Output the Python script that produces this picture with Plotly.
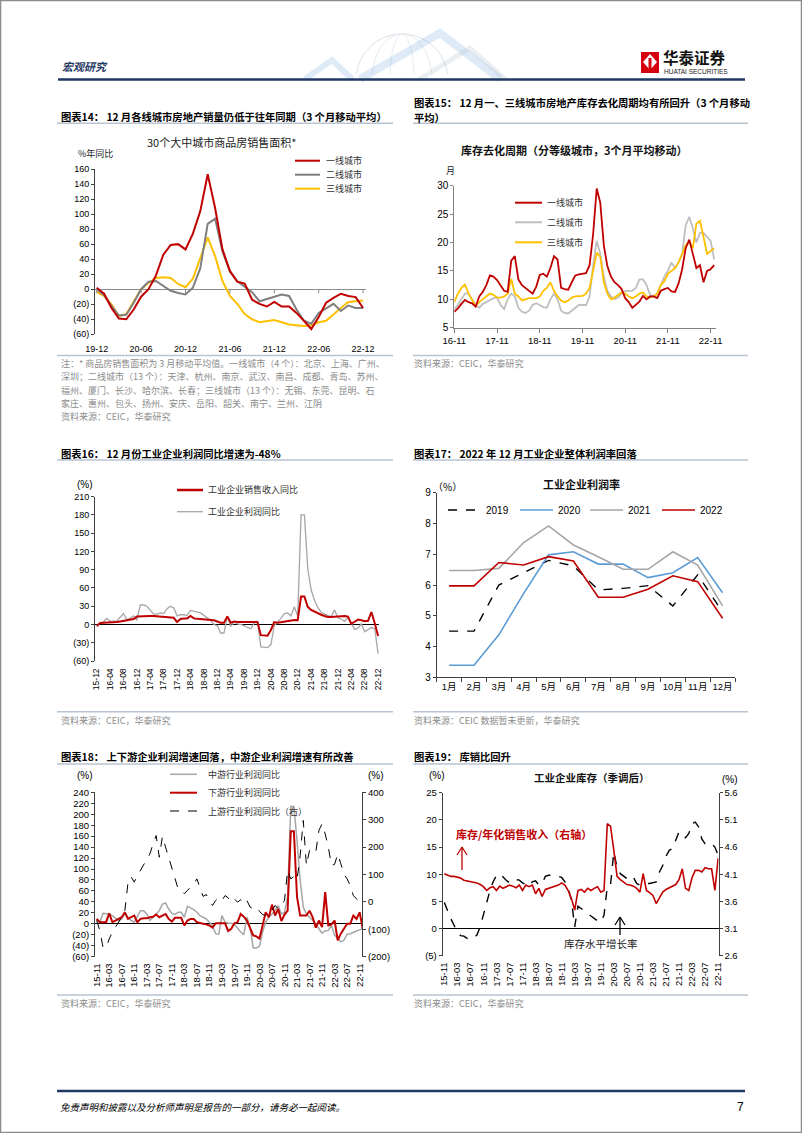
import numpy as np
import pandas as pd
import plotly.graph_objects as go

W, H = 802, 1133
CJK = "Noto Sans CJK SC"
NUM = "Liberation Sans, Arial, Noto Sans CJK SC"
RED = "#C00000"

# ---------------- data ----------------
# Chart 14: 30 cities sales area yoy (3mma), 19-12 .. 22-12
months14 = pd.date_range("2019-12-01", "2022-12-01", freq="MS").strftime("%y-%m").tolist()
tier1_14 = [2, -6, -25, -39, -40, -27, -10, 0, 18, 46, 59, 60, 53, 74, 104, 153, 108, 53, 24, 10,
            7.5, -14, -19.5, -23, -17, -23, -23, -31.5, -42, -53, -37, -18, -11.5, -6, -9, -10.5, -25]
tier2_14 = [0, -8, -22, -35, -34, -18, 0, 10, 11, 4, -2, -5, -7, 2, 28, 87, 94, 50, 24, 10.6,
            2.7, -4, -16, -13, -10.6, -7, -9, -27, -42, -46, -31.5, -26, -19.5, -29, -21.7, -25, -25]
tier3_14 = [-4, -9, -20, -36, -33, -16, 0, 8.5, 15, 16, 15, 7, 2.7, 14, 42, 69, 44, 10.6, -9, -19.5,
            -33, -40, -44, -42, -41, -44, -47, -48, -49, -48, -44, -42, -33, -25, -17, -16, -15]
ticks14 = ["19-12", "20-06", "20-12", "21-06", "21-12", "22-06", "22-12"]
yt14 = [-60, -40, -20, 0, 20, 40, 60, 80, 100, 120, 140, 160]
yl14 = ["(60)", "(40)", "(20)", "0", "20", "40", "60", "80", "100", "120", "140", "160"]

# Chart 15: inventory clearance cycle (months), 16-11 .. 22-12
months15 = pd.date_range("2016-11-01", "2022-12-01", freq="MS").strftime("%y-%m").tolist()
tier1_15 = [7.8, 8.4, 9.2, 9.9, 9.5, 9.3, 8.7, 10.5, 11.3, 12.5, 14.2, 14.0, 13.4, 12.5, 11.5, 11.3,
            16.8, 17.6, 13.5, 12.5, 12.0, 11.6, 11.0, 12.2, 14.3, 14.5, 14.0, 15.5, 17.6, 17.0, 12.0,
            11.8, 11.7, 13.0, 14.2, 14.4, 14.5, 14.6, 16.0, 21.5, 29.5, 27.0, 19.5, 15.8, 14.0, 13.0,
            12.5, 11.8, 10.2, 9.5, 8.5, 9.0, 9.6, 10.6, 10.0, 10.5, 10.5, 10.2, 11.5, 11.8, 12.0, 11.4,
            11.3, 12.8, 15.3, 19.0, 20.5, 18.0, 15.5, 16.0, 13.0, 15.0, 15.3, 16.0]
tier2_15 = [8.3, 9.0, 10.0, 11.0, 11.0, 10.0, 9.0, 8.5, 9.2, 9.5, 9.8, 10.2, 10.3, 9.0, 8.3, 10.0,
            11.0, 10.5, 8.5, 7.8, 7.6, 8.0, 9.0, 9.3, 9.0, 8.6, 8.5, 10.0, 11.0, 10.0, 8.0, 7.6, 7.5,
            8.0, 8.5, 9.0, 9.0, 9.0, 10.5, 16.0, 20.3, 18.0, 14.0, 11.5, 10.5, 10.0, 10.3, 11.0, 11.5,
            11.5, 11.5, 12.0, 13.5, 13.5, 12.5, 10.8, 10.5, 11.0, 12.5, 14.0, 15.0, 16.5, 15.5, 16.5,
            18.0, 23.0, 24.5, 22.5, 20.0, 21.7, 21.7, 21.0, 20.3, 17.0]
tier3_15 = [9.5, 11.0, 12.0, 12.6, 11.0, 10.0, 8.8, 9.5, 10.0, 10.6, 11.0, 10.8, 10.3, 10.3, 10.5,
            11.0, 13.6, 11.0, 10.5, 9.8, 10.0, 10.2, 10.2, 10.2, 10.5, 11.5, 12.0, 13.0, 11.5, 10.5,
            9.8, 9.5, 9.8, 10.3, 10.5, 10.5, 10.6, 11.0, 12.0, 15.0, 18.2, 17.5, 13.0, 11.0, 10.0,
            10.3, 10.8, 11.2, 11.0, 10.5, 10.2, 10.5, 11.0, 11.2, 10.5, 10.3, 10.5, 11.0, 12.5, 13.2,
            14.5, 15.0, 15.5, 16.5, 18.0, 19.5, 20.2, 19.0, 23.3, 23.8, 21.0, 18.0, 18.5, 19.0]
ticks15 = ["16-11", "17-11", "18-11", "19-11", "20-11", "21-11", "22-11"]
yt15 = [5, 10, 15, 20, 25, 30]

# Chart 16: industrial revenue / profit yoy, 15-12 .. 22-12
months16 = pd.date_range("2015-12-01", "2022-12-01", freq="MS").strftime("%y-%m").tolist()
revenue16 = [-2, 2, 3, 3, 4, 4, 4, 5, 6, 6, 7, 9, 13, 13.5, 14, 14, 14, 14, 13.5, 13,
             12.5, 12, 12, 11, 4, 9, 10, 10, 14, 10, 9.5, 9, 9, 8, 7, 7, 5, 3, 3, 13,
             3, 5, 4, 4, 4, 3, 3, 3, 4, -17.5, -18, -18.5, -9, 4, 3, 4, 5.5, 6.5, 7, 7.5,
             7, 46, 46, 29, 24, 21, 19, 16, 14, 12.5, 12.5, 13, 14, 14, 14, 13, 1, 4.5, 8, 7,
             5.5, 6, 20.5, 2, -19]
profit16 = [-4, 3, 4, 10, 5, 5, 6, 12, 18, 8, 10, 14, 7, 32, 32, 30, 24, 17, 17, 19,
            18, 26, 30, 27, 14, 16, 16, 15, 23, 22, 21, 19, 15, 11, 7, 0, -2, -14, -14, 14,
            -3, 4, 1, 0, -2, -4, -7, 2, 5, -37, -38, -38, -33, -2, 4, 10, 18, 19, 14, 29,
            14, 180, 180, 92, 57, 40, 28, 20, 17, 15, 13, 24, 11, 9, 5, 12, 3, -8, -6, 1,
            -12, -9, -5, -7, -48]
ticks16 = ["15-12", "16-04", "16-08", "16-12", "17-04", "17-08", "17-12", "18-04", "18-08", "18-12",
           "19-04", "19-08", "19-12", "20-04", "20-08", "20-12", "21-04", "21-08", "21-12", "22-04",
           "22-08", "22-12"]
yt16 = [-60, -30, 0, 30, 60, 90, 120, 150, 180, 210]
yl16 = ["(60)", "(30)", "0", "30", "60", "90", "120", "150", "180", "210"]

# Chart 17: profit margin by month
months17 = ["1月", "2月", "3月", "4月", "5月", "6月", "7月", "8月", "9月", "10月", "11月", "12月"]
m2019 = [4.5, 4.5, 6.0, 6.4, 6.8, 6.62, 5.84, 5.89, 5.98, 5.32, 6.33, 5.12]
m2020 = [3.39, 3.39, 4.38, 5.73, 6.98, 7.08, 6.68, 6.68, 6.24, 6.4, 6.89, 5.75]
m2021 = [6.47, 6.47, 6.54, 7.38, 7.92, 7.3, 6.92, 6.51, 6.51, 7.08, 6.65, 5.32]
m2022 = [5.97, 5.97, 6.73, 6.65, 6.92, 6.78, 5.6, 5.6, 5.86, 6.3, 6.11, 4.92]
yt17 = [3, 4, 5, 6, 7, 8, 9]

# Chart 18: up / mid / downstream profit yoy, 15-11 .. 22-12
months18 = pd.date_range("2015-11-01", "2022-12-01", freq="MS").strftime("%y-%m").tolist()
mid18 = [6, 3, 19, 19, 18, 15, 10, 6, 9, 19, 12, 6, 3, 15, 24, 24, 18, 6, 12, 18,
         24, 36, 38, 27, 19, 17, 21, 21, 12, 32, 29, 26, 21, 15, 12, 9, 3, -3, -18, -19,
         15, 3, 1, 1, -1, -9, -15, -20, 12, -6, -44, -44, -41, -15, 3, 12, 18, 24, 33, 18,
         21, 50, 214, 214, 152, 79, 30, 18, 12, 6, 0, -9, -17, -13, -12, -3, -21, -26, -33, -30,
         -19, -18, -15, -13, -11, -9]
down18 = [9, 3, 3, 3, 19, 3, 6, 9, 12, 21, 9, 12, 15, 3, 9, 10, 10, 12, 13, 17,
          12, 15, 18, 9, 4, 11, 11, 11, -3, 6, 9, 9, 3, 1, 0, -1, -3, -7, 1, 1,
          1, 1, -13, -9, 1, 3, 18, 13, 6, -9, -21, -23, -27, -3, 21, 12, 35, 15, 27, 5,
          17, 24, 169, 169, 49, 15, 15, 15, 24, 12, -7, 6, -6, 58, -3, -1, 6, -30, -18, -9,
          0, 0, 15, 9, 21, -9]
up18 = [-68, -104, -165, -168, -135, -110, -92, -74, -56, -31, 70, 92, 72, 96, 115, 133, 151, 175, 212, 242,
        163, 239, 200, 163, 121, 84, 48, 44, 29.5, 42, 54, 66, 84, 54, 20, 27, 8, -13, 5, 15,
        5, 23, 15, -1, 11, -1, 8, -7, 5, -19, -25, -19, -34, -46, -50, -37, -31, -13, -25, -13,
        5, 115, 84, 93, 80, 169, 297, 133, 188, 194, 182, 261, 285, 248, 200, 133, 137, 175, 139, 102,
        84, 60, 23, 11, 3, -5]
ticks18 = ["15-11", "16-03", "16-07", "16-11", "17-03", "17-07", "17-11", "18-03", "18-07", "18-11",
           "19-03", "19-07", "19-11", "20-03", "20-07", "20-11", "21-03", "21-07", "21-11", "22-03",
           "22-07", "22-11"]
yt18 = [-60, -40, -20, 0, 20, 40, 60, 80, 100, 120, 140, 160, 180, 200, 220, 240]
yl18 = ["(60)", "(40)", "(20)", "0", "20", "40", "60", "80", "100", "120", "140", "160", "180",
        "200", "220", "240"]
yt18r = [-200, -100, 0, 100, 200, 300, 400]
yl18r = ["(200)", "(100)", "0", "100", "200", "300", "400"]

# Chart 19: inventory growth and inventory/sales ratio, 15-11 .. 22-11
months19 = pd.date_range("2015-11-01", "2022-11-01", freq="MS").strftime("%y-%m").tolist()
inv_growth19 = [4.8, 3.1, 1.8, 0.6, -0.6, -1.3, -1.4, -1.8, -2.0, -1.7, -1.2, 0.3, 2.5, 5.2, 7.0,
                8.6, 9.8, 10.1, 9.4, 8.9, 8.4, 8.8, 9.0, 8.9, 8.4, 8.1, 7.8, 8.6, 8.8, 8.0, 8.3,
                9.6, 9.8, 9.8, 9.8, 9.6, 9.4, 8.6, 7.4, 5.2, 0.3, 4.1, 3.7, 3.2, 2.8, 2.3, 1.8,
                1.4, 1.2, 2.5, 7.7, 8.1, 14.1, 11.2, 10.1, 9.6, 9.2, 8.9, 9.4, 8.3, 8.0, 8.1, 8.3,
                8.3, 8.4, 8.6, 10.4, 11.6, 13.3, 14.4, 14.7, 16.2, 17.8, 17.2, 16.7, 17.5, 19.3,
                19.6, 18.7, 16.5, 15.6, 15.3, 15.6, 15.0, 13.5]
inv_ratio19 = [4.11, 4.08, 4.06, 4.06, 4.05, 4.03, 3.99, 3.98, 3.97, 3.96, 3.94, 3.91, 3.87, 3.80,
               3.85, 3.87, 3.80, 3.88, 3.84, 3.87, 3.90, 3.88, 3.85, 3.90, 3.80, 3.90, 3.87, 3.90,
               3.74, 3.84, 3.69, 3.82, 3.84, 3.87, 3.88, 3.90, 3.94, 3.90, 3.80, 3.65, 3.44, 3.80,
               3.82, 3.77, 3.84, 3.80, 3.84, 3.87, 3.77, 3.80, 5.03, 4.98, 4.54, 4.06, 4.00, 3.96,
               3.91, 3.90, 3.88, 3.84, 3.77, 4.11, 3.80, 3.76, 3.71, 3.56, 3.68, 3.77, 3.82, 3.85,
               3.88, 3.91, 4.00, 4.20, 3.84, 3.80, 4.04, 4.17, 4.17, 4.14, 4.22, 4.20, 4.20, 3.80, 4.39]
ticks19 = ticks18
yt19 = [-5, 0, 5, 10, 15, 20, 25]
yl19 = ["(5)", "0", "5", "10", "15", "20", "25"]
yt19r = [2.6, 3.1, 3.6, 4.1, 4.6, 5.1, 5.6]
yl19r = ["2.6", "3.1", "3.6", "4.1", "4.6", "5.1", "5.6"]


# ---------------- helpers ----------------
def X(p):
    return p / W


def Y(p):
    return 1 - p / H


annotations, shapes = [], []


def text(x, y, s, size=9, color="#000", anchor="left", family=CJK, bold=False, italic=False):
    if bold:
        s = "<b>" + s + "</b>"
    if italic:
        s = "<i>" + s + "</i>"
    annotations.append(dict(x=X(x), y=Y(y), xref="paper", yref="paper", text=s, showarrow=False,
                            xanchor=anchor, yanchor="middle", borderpad=0,
                            font=dict(size=size, color=color, family=family)))


def line(x0, y0, x1, y1, color="#000", width=1, dash="solid"):
    shapes.append(dict(type="line", xref="paper", yref="paper", x0=X(x0), y0=Y(y0), x1=X(x1), y1=Y(y1),
                       line=dict(color=color, width=width, dash=dash)))


def xr(d0, d1, p0, step):
    return [(d0 - p0) / step, (d1 - p0) / step]


fig = go.Figure()


def add(x, y, xa, ya, color, width, dash="solid"):
    fig.add_trace(go.Scatter(x=x, y=y, xaxis=xa, yaxis=ya, mode="lines",
                             line=dict(color=color, width=width, dash=dash),
                             showlegend=False, hoverinfo="skip"))


def ax(**kw):
    d = dict(showgrid=False, zeroline=False, fixedrange=True, automargin=False,
             tickfont=dict(family=NUM, size=9, color="#000"))
    d.update(kw)
    return d


AX = "#404040"

# ---------------- traces ----------------
add(months14, tier3_14, "x", "y", "#FFC000", 2)
add(months14, tier2_14, "x", "y", "#7F7F7F", 2)
add(months14, tier1_14, "x", "y", RED, 2)

add(months15, tier2_15, "x2", "y2", "#BFBFBF", 1.8)
add(months15, tier3_15, "x2", "y2", "#FFC000", 1.8)
add(months15, tier1_15, "x2", "y2", RED, 1.8)

add(months16, profit16, "x3", "y3", "#A6A6A6", 1.3)
add(months16, revenue16, "x3", "y3", RED, 2)

add(months17, m2019, "x4", "y4", "#000000", 1.4, "dash")
add(months17, m2020, "x4", "y4", "#5B9BD5", 1.6)
add(months17, m2021, "x4", "y4", "#A6A6A6", 1.6)
add(months17, m2022, "x4", "y4", RED, 1.6)

add(months18, mid18, "x5", "y5", "#A6A6A6", 1.5)
add(months18, down18, "x5", "y5", RED, 2)
add(months18, up18, "x5", "y7", "#000000", 1, "dash")

add(months19, inv_growth19, "x6", "y6", "#000000", 1.4, "dash")
add(months19, inv_ratio19, "x6", "y8", RED, 1.6)

# ---------------- axes ----------------
layout = dict(width=W, height=H, margin=dict(l=0, r=0, t=0, b=0), paper_bgcolor="white",
              plot_bgcolor="rgba(0,0,0,0)", showlegend=False)

tick_clear = dict(ticks="outside", tickcolor="rgba(0,0,0,0)")

layout["xaxis"] = ax(type="category", domain=[X(95), X(366)], range=xr(95, 366, 96.7, 7.4), anchor="y",
                     tickmode="array", tickvals=ticks14, ticktext=ticks14, ticklen=6, tickangle=0, **tick_clear)
layout["yaxis"] = ax(domain=[Y(334.3), Y(169)], range=[-60, 160], anchor="x", tickmode="array",
                     tickvals=yt14, ticktext=yl14, showline=True, linecolor=AX, ticks="outside",
                     ticklen=3, tickcolor=AX, zeroline=True, zerolinecolor="#8C8C8C", zerolinewidth=1)

layout["xaxis2"] = ax(type="category", domain=[X(454.3), X(716)], range=xr(454.3, 716, 454.3, 3.56),
                      anchor="y2", tickmode="array", tickvals=ticks15, ticktext=ticks15, tickangle=0,
                      showline=True, linecolor="#808080", ticks="outside", ticklen=4, tickcolor="#808080",
                      tickfont=dict(family=NUM, size=9.5, color="#000"))
layout["yaxis2"] = ax(domain=[Y(327.7), Y(185.7)], range=[5, 30], anchor="x2", tickmode="array",
                      tickvals=yt15, showline=True, linecolor="#808080", ticks="outside", ticklen=3,
                      tickcolor="#808080", tickfont=dict(family=NUM, size=10, color="#000"))

layout["xaxis3"] = ax(type="category", domain=[X(95), X(379)], range=xr(95, 379, 96.7, 3.35), anchor="y3",
                      tickmode="array", tickvals=ticks16, ticktext=ticks16, tickangle=-90, ticklen=3,
                      tickfont=dict(family=NUM, size=8.5, color="#000"), **tick_clear)
layout["yaxis3"] = ax(domain=[Y(661), Y(496.7)], range=[-60, 210], anchor="x3", tickmode="array",
                      tickvals=yt16, ticktext=yl16, showline=True, linecolor=AX, ticks="outside", ticklen=3,
                      tickcolor=AX, zeroline=True, zerolinecolor="#000", zerolinewidth=1)

layout["xaxis4"] = ax(type="category", domain=[X(436.7), X(735)], range=[-0.5, 11.5], anchor="y4",
                      showline=True, linecolor=AX, ticks="outside", ticklen=4, tickcolor=AX, tickangle=0,
                      tickson="boundaries", tickfont=dict(family=NUM, size=9.5, color="#000"))
layout["yaxis4"] = ax(domain=[Y(677.3), Y(492.7)], range=[3, 9], anchor="x4", tickmode="array",
                      tickvals=yt17, showline=True, linecolor=AX, ticks="outside", ticklen=3, tickcolor=AX,
                      tickfont=dict(family=NUM, size=10, color="#000"))

layout["xaxis5"] = ax(type="category", domain=[X(95), X(362)], range=xr(95, 362, 96.7, 3.13), anchor="y5",
                      tickmode="array", tickvals=ticks18, ticktext=ticks18, tickangle=-90, ticklen=2,
                      tickfont=dict(family=NUM, size=9.5, color="#000"), **tick_clear)
layout["yaxis5"] = ax(domain=[Y(956.7), Y(792.3)], range=[-60, 240], anchor="x5", tickmode="array",
                      tickvals=yt18, ticktext=yl18, showline=True, linecolor=AX, ticks="outside", ticklen=3,
                      tickcolor=AX, zeroline=True, zerolinecolor="#000", zerolinewidth=1,
                      tickfont=dict(family=NUM, size=9.5, color="#000"))
layout["yaxis7"] = ax(overlaying="y5", side="right", anchor="x5", range=[-200, 400], tickmode="array",
                      tickvals=yt18r, ticktext=yl18r, showline=True, linecolor=AX, ticks="outside",
                      ticklen=3, tickcolor=AX, tickfont=dict(family=NUM, size=9.5, color="#000"))

layout["xaxis6"] = ax(type="category", domain=[X(442.7), X(718.5)], range=xr(442.7, 718.5, 444.3, 3.26),
                      anchor="y6", tickmode="array", tickvals=ticks19, ticktext=ticks19, tickangle=-90,
                      ticklen=2, tickfont=dict(family=NUM, size=9.5, color="#000"), **tick_clear)
layout["yaxis6"] = ax(domain=[Y(955.7), Y(792.7)], range=[-5, 25], anchor="x6", tickmode="array",
                      tickvals=yt19, ticktext=yl19, showline=True, linecolor=AX, ticks="outside", ticklen=3,
                      tickcolor=AX, zeroline=True, zerolinecolor="#000", zerolinewidth=1,
                      tickfont=dict(family=NUM, size=9.5, color="#000"))
layout["yaxis8"] = ax(overlaying="y6", side="right", anchor="x6", range=[2.6, 5.6], tickmode="array",
                      tickvals=yt19r, ticktext=yl19r, showline=True, linecolor=AX, ticks="outside",
                      ticklen=3, tickcolor=AX, tickfont=dict(family=NUM, size=9.5, color="#000"))

# small tick marks on the zero line of chart 14
for t in ticks14:
    shapes.append(dict(type="line", xref="x", yref="y", x0=t, x1=t, ysizemode="pixel", yanchor=0,
                       y0=0, y1=-4, line=dict(color="#8C8C8C", width=1)))

# ---------------- page decoration ----------------
NAVY = "#1F3864"
SEP = "#B8C4D2"
shapes.append(dict(type="rect", xref="paper", yref="paper", x0=X(0.5), x1=X(801.5), y0=Y(1132.5), y1=Y(0.5),
                   line=dict(color="#8C8C8C", width=1.5)))
# globe-like watermark
for (cx, cy, rx, ry, col) in [(402, 80, 46, 46, "#DCE2E9"), (402, 80, 30, 46, "#E4E8EE"), (402, 80, 12, 46, "#E8ECF1")]:
    ang = np.linspace(0.04 * np.pi, 0.96 * np.pi, 40)
    path = "M " + " L ".join(f"{X(cx + rx * np.cos(a)):.5f},{Y(cy - ry * np.sin(a)):.5f}" for a in ang)
    shapes.append(dict(type="path", xref="paper", yref="paper", path=path, line=dict(color=col, width=1)))
for pts, col, wd in [([(305, 79), (332, 60), (352, 79)], "rgba(91,155,213,0.20)", 6),
                     ([(360, 79), (440, 33), (500, 79)], "rgba(91,155,213,0.20)", 8),
                     ([(420, 79), (470, 48), (505, 79)], "rgba(180,190,205,0.25)", 5)]:
    path = "M " + " L ".join(f"{X(a):.5f},{Y(b):.5f}" for a, b in pts)
    shapes.append(dict(type="path", xref="paper", yref="paper", path=path, line=dict(color=col, width=wd)))

line(58, 79.5, 745, 79.5, NAVY, 2.5)
line(57, 1091, 745, 1091, NAVY, 2.5)
text(61, 66, "宏观研究", size=11, color=NAVY, bold=True, italic=True)
shapes.append(dict(type="rect", xref="paper", yref="paper", x0=X(641), x1=X(659), y0=Y(73), y1=Y(52),
                   fillcolor="#D7000F", line=dict(width=0)))
shapes.append(dict(type="path", xref="paper", yref="paper",
                   path=f"M {X(650):.5f},{Y(54):.5f} L {X(657):.5f},{Y(62):.5f} L {X(650):.5f},{Y(70):.5f} L {X(643):.5f},{Y(62):.5f} Z",
                   fillcolor="white", line=dict(width=0)))
shapes.append(dict(type="rect", xref="paper", yref="paper", x0=X(648.5), x1=X(651.5), y0=Y(73), y1=Y(58),
                   fillcolor="#D7000F", line=dict(width=0)))
text(662, 56.5, "华泰证券", size=15.5, color="#111", bold=True)
text(663, 71.5, "HUATAI SECURITIES", size=6.5, color="#222", family=NUM)
text(59, 1107, "免责声明和披露以及分析师声明是报告的一部分，请务必一起阅读。", size=9.5, italic=True)
text(745, 1107, "7", size=12, anchor="right", family=NUM)

# ---------------- titles, rules, sources ----------------
TS = 10.3
text(60, 116, "图表14：\u00a012 月各线城市房地产销量仍低于往年同期（3 个月移动平均）", TS, bold=True)
text(413, 102, "图表15：\u00a012 月一、三线城市房地产库存去化周期均有所回升（3 个月移动", TS, bold=True)
text(413, 117, "平均）", TS, bold=True)
text(60, 453, "图表16：\u00a012 月份工业企业利润同比增速为-48%", TS, bold=True)
text(413, 453, "图表17：\u00a02022 年 12 月工业企业整体利润率回落", TS, bold=True)
text(60, 756, "图表18：\u00a0上下游企业利润增速回落，中游企业利润增速有所改善", TS, bold=True)
text(413, 756, "图表19：\u00a0库销比回升", TS, bold=True)
for (a, b, y) in [(57, 393, 123.3), (413, 748, 123.3), (57, 393, 460), (413, 748, 460), (57, 393, 764),
                  (413, 748, 764), (57, 393, 355.5), (413, 748, 355.5), (57, 393, 711.7), (413, 748, 711.7),
                  (57, 393, 995), (413, 748, 995)]:
    line(a, y, b, y, SEP, 1.5)

GREY = "#8C8C8C"
notes = ["注：* 商品房销售面积为 3 月移动平均值。一线城市（4 个）：北京、上海、广州、",
         "深圳；二线城市（13 个）：天津、杭州、南京、武汉、南昌、成都、青岛、苏州、",
         "福州、厦门、长沙、哈尔滨、长春；三线城市（13 个）：无锡、东莞、昆明、石",
         "家庄、惠州、包头、扬州、安庆、岳阳、韶关、南宁、兰州、江阴"]
for k, s in enumerate(notes):
    text(60, 363 + 13.5 * k, s, 9, GREY)
text(60, 417, "资料来源：CEIC，华泰研究", 9, GREY)
text(413, 363, "资料来源：CEIC，华泰研究", 9, GREY)
text(60, 720, "资料来源：CEIC，华泰研究", 9, GREY)
text(413, 720, "资料来源：CEIC 数据暂未更新，华泰研究", 9, GREY)
text(60, 1003.3, "资料来源：CEIC，华泰研究", 9, GREY)
text(413, 1003.3, "资料来源：CEIC，华泰研究", 9, GREY)

# ---------------- chart inner texts & legends ----------------
# chart 14
text(221, 142, "30个大中城市商品房销售面积*", 11, "#222", anchor="center")
text(77, 153.3, "%年同比", 9, "#222")
for y, c, s in [(160.7, RED, "一线城市"), (174.7, "#7F7F7F", "二线城市"), (188.7, "#FFC000", "三线城市")]:
    line(295, y, 320, y, c, 2)
    text(325, y, s, 9, "#333")
# chart 15
text(574, 150, "库存去化周期（分等级城市，3个月平均移动）", 11, "#111", anchor="center", bold=True)
text(450, 170, "月", 9, "#222", anchor="center")
for y, c, s in [(202.7, RED, "一线城市"), (222.3, "#BFBFBF", "二线城市"), (242.3, "#FFC000", "三线城市")]:
    line(515, y, 542, y, c, 2)
    text(546, y, s, 9, "#333")
# chart 16
text(85, 484.3, "(%)", 10, "#000", anchor="center", family=NUM)
line(177, 490, 203, 490, RED, 2.5)
text(207, 490, "工业企业销售收入同比", 9, "#333")
line(177, 511.7, 203, 511.7, "#A6A6A6", 1.3)
text(207, 511.7, "工业企业利润同比", 9, "#333")
# chart 17
text(581.7, 484.3, "工业企业利润率", 11, "#111", anchor="center", bold=True)
text(448, 486.7, "（%）", 10, "#000", anchor="center")
for x0, c, d, s in [(448, "#000000", "dash", "2019"), (520, "#5B9BD5", "solid", "2020"),
                    (590, "#A6A6A6", "solid", "2021"), (662, RED, "solid", "2022")]:
    line(x0, 510, x0 + 33, 510, c, 1.6, d)
    text(x0 + 37, 510, s, 10, "#000", family=NUM)
# chart 18
text(85, 775.7, "(%)", 10, "#000", anchor="center", family=NUM)
text(376, 775.7, "(%)", 10, "#000", anchor="center", family=NUM)
line(170, 774.3, 197, 774.3, "#A6A6A6", 1.5)
text(207, 774.3, "中游行业利润同比", 9, "#333")
line(170, 792.7, 197, 792.7, RED, 2)
text(207, 792.7, "下游行业利润同比", 9, "#333")
line(170, 811, 197, 811, "#000", 1, "dash")
text(207, 811, "上游行业利润同比（右）", 9, "#333")
# chart 19
text(591.7, 777.7, "工业企业库存（季调后）", 10.5, "#111", anchor="center", bold=True)
text(437, 775.7, "(%)", 10, "#000", anchor="center", family=NUM)
text(730, 779, "(%)", 10, "#000", anchor="center", family=NUM)
text(455, 834, "库存/年化销售收入（右轴）", 11, RED, bold=True)
line(462, 870, 462, 847.5, RED, 1.3)
line(457, 855, 462, 847, RED, 1.3)
line(467, 855, 462, 847, RED, 1.3)
text(563, 943.3, "库存水平增长率", 10.5, "#222")
line(620, 935, 620, 917.5, "#000", 1.3)
line(615, 925, 620, 917, "#000", 1.3)
line(625, 925, 620, 917, "#000", 1.3)

layout["annotations"] = annotations
layout["shapes"] = shapes
fig.update_layout(**layout)
fig.write_html("out.html")
